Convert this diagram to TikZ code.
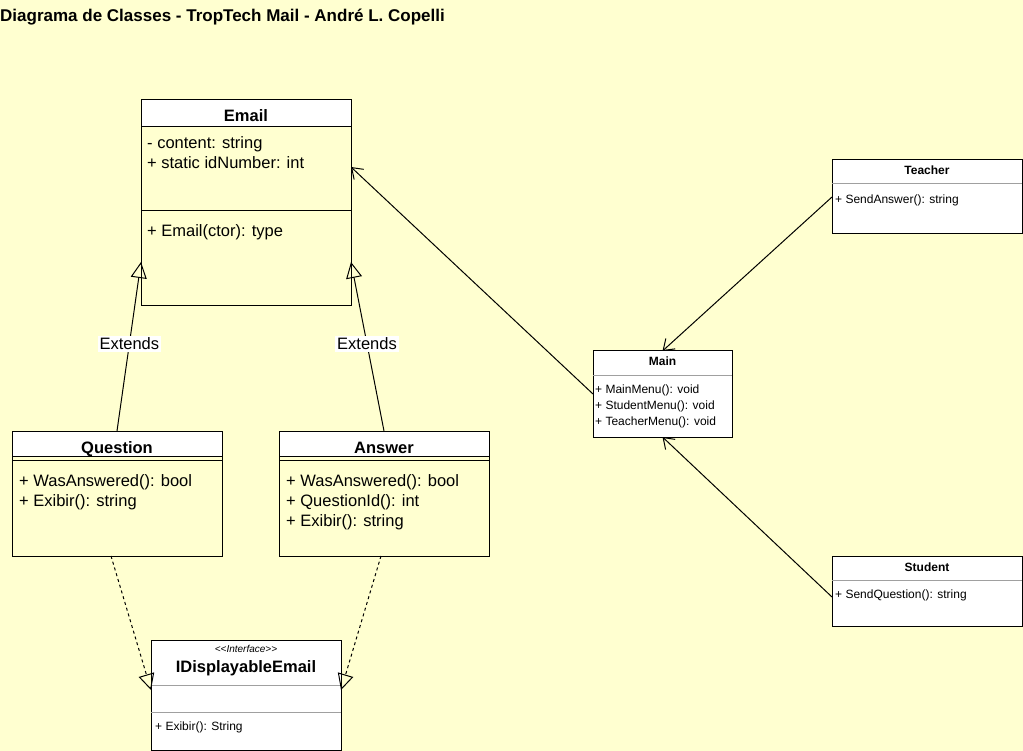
\documentclass[tikz,border=0pt]{standalone}
\usepackage{fontspec}
\setmainfont{Liberation Sans}
\usetikzlibrary{arrows.meta,calc}
\definecolor{bg}{HTML}{FFFFD0}
\definecolor{sepc}{HTML}{A0A0A0}
\tikzset{
  cls/.style={draw=black, line width=1pt, inner sep=0pt, outer sep=0pt},
  big/.style={font=\fontsize{16.5}{20}\selectfont},
  bigb/.style={font=\bfseries\fontsize{16.5}{20}\selectfont},
  small/.style={font=\fontsize{12}{14}\selectfont},
  smallb/.style={font=\bfseries\fontsize{12}{14}\selectfont},
  tiny/.style={font=\itshape\fontsize{10}{12}\selectfont},
  txt/.style={anchor=base west, inner sep=0pt},
  ttl/.style={anchor=base, inner sep=0pt},
  gen/.style={line width=1pt, -{Triangle[open,length=16pt,width=16pt]}},
  realz/.style={gen, dash pattern=on 3pt off 3pt},
  assoc/.style={line width=1pt, -{Straight Barb[length=10pt,width=14pt]}},
  lbl/.style={fill=white, inner sep=2pt, big},
  divg/.style={draw=sepc, line width=1pt},
  divb/.style={draw=black, line width=1pt}
}
\begin{document}
\begin{tikzpicture}[x=1pt,y=-1pt]
\fill[bg] (0,0) rectangle (1023,751);
\useasboundingbox (0,0) rectangle (1023,751);

% title
\node[anchor=base west, inner sep=0pt, font=\bfseries\fontsize{17}{20}\selectfont] (title) at (0,22) {Diagrama de Classes - TropTech Mail - André L. Copelli};

% Email
\node[cls, minimum width=210pt, minimum height=206pt] (email) at (246,203) {};
\filldraw[fill=white, line width=1pt] (email.north west) rectangle ($(email.north east)+(0,27)$);
\draw[divb] ($(email.north west)+(0,111)$) -- ($(email.north east)+(0,111)$);
\node[ttl, bigb] (emailt) at (246,122) {Email};
\node[txt, big] (emaila1) at (147,149) {- content: string};
\node[txt, big] (emaila2) at (147,168.5) {+ static idNumber: int};
\node[txt, big] (emailm1) at (147,237) {+ Email(ctor): type};

% Question
\node[cls, minimum width=210pt, minimum height=125pt] (question) at (117,493.5) {};
\filldraw[fill=white, line width=1pt] (question.north west) rectangle ($(question.north east)+(0,25)$);
\draw[divb] ($(question.north west)+(0,29)$) -- ($(question.north east)+(0,29)$);
\node[ttl, bigb] (questiont) at (117,453) {Question};
\node[txt, big] (questionm1) at (19,486.5) {+ WasAnswered(): bool};
\node[txt, big] (questionm2) at (19,506.5) {+ Exibir(): string};

% Answer
\node[cls, minimum width=210pt, minimum height=125pt] (answer) at (384,493.5) {};
\filldraw[fill=white, line width=1pt] (answer.north west) rectangle ($(answer.north east)+(0,25)$);
\draw[divb] ($(answer.north west)+(0,29)$) -- ($(answer.north east)+(0,29)$);
\node[ttl, bigb] (answert) at (384,453) {Answer};
\node[txt, big] (answerm1) at (286,486.5) {+ WasAnswered(): bool};
\node[txt, big] (answerm2) at (286,506.5) {+ QuestionId(): int};
\node[txt, big] (answerm3) at (286,526.5) {+ Exibir(): string};

% Interface
\node[cls, fill=white, minimum width=190pt, minimum height=110pt] (iface) at (246,695) {};
\draw[divg] ($(iface.north west)+(0,45)$) -- ($(iface.north east)+(0,45)$);
\draw[divg] ($(iface.north west)+(0,72)$) -- ($(iface.north east)+(0,72)$);
\node[ttl, tiny] (ifaces) at (246,652.5) {<{}<Interface>{}>};
\node[ttl, bigb] (ifacet) at (246,672.5) {IDisplayableEmail};
\node[txt, small] (ifacem1) at (155,730) {+ Exibir(): String};

% Main
\node[cls, fill=white, minimum width=139pt, minimum height=86pt] (main) at (662.5,394) {};
\draw[divg] ($(main.north west)+(0,24)$) -- ($(main.north east)+(0,24)$);
\node[ttl, smallb] (maint) at (662.5,366) {Main};
\node[txt, small] (mainm1) at (595,393) {+ MainMenu(): void};
\node[txt, small] (mainm2) at (595,409) {+ StudentMenu(): void};
\node[txt, small] (mainm3) at (595,425) {+ TeacherMenu(): void};

% Teacher
\node[cls, fill=white, minimum width=190pt, minimum height=74pt] (teacher) at (927,197) {};
\draw[divg] ($(teacher.north west)+(0,24)$) -- ($(teacher.north east)+(0,24)$);
\node[ttl, smallb] (teachert) at (927,175) {Teacher};
\node[txt, small] (teacherm1) at (835,204) {+ SendAnswer(): string};

% Student
\node[cls, fill=white, minimum width=190pt, minimum height=70pt] (student) at (927,591) {};
\draw[divg] ($(student.north west)+(0,24)$) -- ($(student.north east)+(0,24)$);
\node[ttl, smallb] (studentt) at (927,571) {Student};
\node[txt, small] (studentm1) at (835,598) {+ SendQuestion(): string};

% connectors
\draw[gen] (question.north) -- node[lbl, pos=0.515] (ext1) {Extends} ($(email.south west)+(0,-44)$);
\draw[gen] (answer.north) -- node[lbl, pos=0.515] (ext2) {Extends} ($(email.south east)+(0,-44)$);
\draw[assoc] (main.west) -- ($(email.north east)+(0,67)$);
\draw[assoc] ($(teacher.north west)+(0,37)$) -- (main.north);
\draw[assoc] ($(student.north west)+(0,41)$) -- (main.south);
\draw[realz] ($(question.south)+(-6,0)$) -- ($(iface.north west)+(0,50)$);
\draw[realz] ($(answer.south)+(-3,0)$) -- ($(iface.north east)+(0,50)$);
\end{tikzpicture}
\end{document}
